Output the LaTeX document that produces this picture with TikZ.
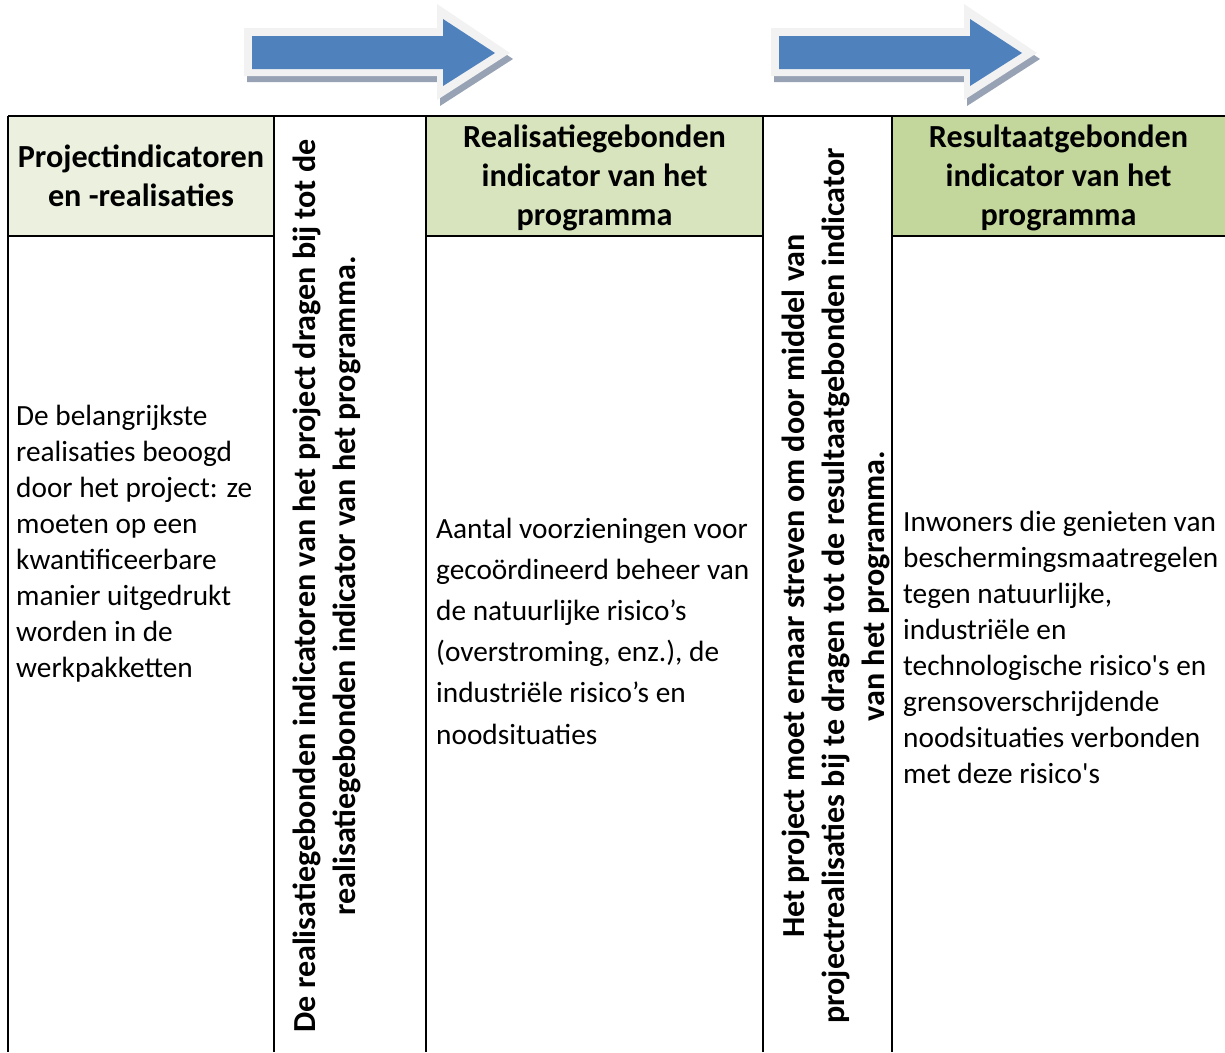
\documentclass[tikz,border=0pt]{standalone}
\usepackage{fontspec}
\setmainfont{Carlito}
\definecolor{arrowblue}{HTML}{4F81BD}
\definecolor{arrowrim}{HTML}{F2F2F2}
\definecolor{arrowshade}{HTML}{97A3B4}
\definecolor{headpale}{HTML}{EBF1DE}
\definecolor{headmid}{HTML}{D7E4BD}
\definecolor{headdark}{HTML}{C3D69B}

\begin{document}
\begin{tikzpicture}[x=1pt,y=-1pt,
  rule/.style={line width=2pt},
  head cell/.style={inner sep=0pt,align=center,
  font=\fontsize{32.2}{39}\selectfont\bfseries},
  body text/.style={anchor=west,inner sep=0pt,align=left,
  font=\fontsize{29.3}{36}\selectfont},
  turned text/.style={rotate=90,inner sep=0pt,align=center,
  font=\fontsize{32.1}{40}\selectfont\bfseries},
  big arrow/.pic={
    \fill[arrowshade,shift={(3,6)}] (0,28) -- (193,28) -- (193,4) -- (266,53)
      -- (193,100) -- (193,76) -- (0,76) -- cycle;
    \fill[arrowrim] (0,28) -- (193,28) -- (193,4) -- (266,53)
      -- (193,100) -- (193,76) -- (0,76) -- cycle;
    \fill[arrowblue] (8,36) -- (199,36) -- (199,19) -- (251,53)
      -- (199,86) -- (199,69) -- (8,69) -- cycle;
  }]

  \useasboundingbox (0,0) rectangle (1225,1052);

  % arrows above the table
  \pic (arrowA) at (244,0) {big arrow};
  \pic (arrowB) at (771,0) {big arrow};

  % header cells
  \node[head cell,fill=headpale,minimum width=266pt,minimum height=120pt]
    (headA) at (141,176) {Projectindicatoren\\en -realisaties};
  \node[head cell,fill=headmid,minimum width=337pt,minimum height=120pt]
    (headB) at (594.5,176) {};
  \node[head cell,fill=headdark,minimum width=333pt,minimum height=120pt]
    (headC) at (1058.5,176) {};
  \node[head cell] (titleB) at (594.5,178) {Realisatiegebonden\\indicator van het\\programma};
  \node[head cell] (titleC) at (1058.5,178) {Resultaatgebonden\\indicator van het\\programma};

  % grid
  \draw[rule] (8,116) -- (1225,116);
  \foreach \x in {8,274,426,763,892}
    \draw[rule] (\x,116) -- (\x,1052);
  \draw[rule] (headA.south west) -- (headA.south east);
  \draw[rule] (headB.south west) -- (headB.south east);
  \draw[rule] (headC.south west) -- (headC.south east);

  % cell texts
  \node[body text] (bodyA) at (16,544) {De belangrijkste\\realisaties beoogd\\door het project: ze\\moeten op een\\kwantificeerbare\\manier uitgedrukt\\worden in de\\werkpakketten};
  \node[body text,font=\fontsize{29.3}{41.2}\selectfont] (bodyB) at (436,631)
    {Aantal voorzieningen voor\\gecoördineerd beheer van\\de natuurlijke risico’s\\(overstroming, enz.), de\\industriële risico’s en\\noodsituaties};
  \node[body text] (bodyC) at (903,647)
    {Inwoners die genieten van\\beschermingsmaatregelen\\tegen natuurlijke,\\industriële en\\technologische risico\textquotesingle s en\\grensoverschrijdende\\noodsituaties verbonden\\met deze risico\textquotesingle s};

  \node[turned text] (linkA) at (327,586)
    {De realisatiegebonden indicatoren van het project dragen bij tot de\\realisatiegebonden indicator van het programma.};
  \node[turned text] (linkB) at (835.5,586)
    {Het project moet ernaar streven om door middel van\\projectrealisaties bij te dragen tot de resultaatgebonden indicator\\van het programma.};

\end{tikzpicture}
\end{document}
